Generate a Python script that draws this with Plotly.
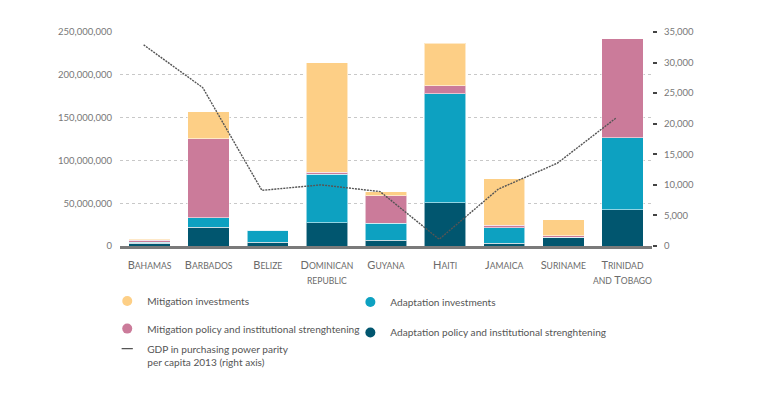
import plotly.graph_objects as go

categories = ["Bahamas", "Barbados", "Belize", "Dominican republic", "Guyana",
              "Haiti", "Jamaica", "Suriname", "Trinidad and Tobago"]
tick_labels = ["Bahamas", "Barbados", "Belize", "Dominican<br>republic", "Guyana",
               "Haiti", "Jamaica", "Suriname", "Trinidad<br>and Tobago"]

adaptation_policy = [3.0e6, 22.0e6, 4.5e6, 27.0e6, 7.0e6, 50.5e6, 3.0e6, 10.0e6, 42.5e6]
adaptation_invest = [1.5e6, 11.0e6, 14.0e6, 57.0e6, 19.5e6, 127.5e6, 18.5e6, 0.5e6, 84.0e6]
mitigation_policy = [2.5e6, 92.5e6, 0.0, 2.0e6, 32.5e6, 9.0e6, 3.0e6, 1.5e6, 115.5e6]
mitigation_invest = [1.0e6, 31.5e6, 0.0, 128.0e6, 4.5e6, 50.0e6, 54.0e6, 18.5e6, 0.0]
gdp_ppp = [32900, 25900, 9100, 10000, 8900, 1100, 9300, 13550, 21000]

left_ticks = [0, 50e6, 100e6, 150e6, 200e6, 250e6]
right_ticks = [0, 5000, 10000, 15000, 20000, 25000, 30000, 35000]

C_MI = "#FDCF86"
C_MP = "#CB7B9A"
C_AI = "#0DA1C1"
C_AP = "#01566F"
C_GDP = "#555555"
TXT = "#6b6b6b"
FONT = "Lato, sans-serif"


def small_caps(label, small=8.6):
    out = []
    for line in label.split("<br>"):
        words = []
        for w in line.split(" "):
            if w[0].isupper():
                words.append(w[0] + f"<span style='font-size:{small}px'>{w[1:].upper()}</span>")
            else:
                words.append(f"<span style='font-size:{small}px'>{w.upper()}</span>")
        out.append(" ".join(words))
    return "<br>".join(out)


fig = go.Figure()
series = [
    ("Adaptation policy and institutional strenghtening", adaptation_policy, C_AP),
    ("Adaptation investments", adaptation_invest, C_AI),
    ("Mitigation policy and institutional strenghtening", mitigation_policy, C_MP),
    ("Mitigation investments", mitigation_invest, C_MI),
]
for name, vals, col in series:
    fig.add_trace(go.Bar(
        x=categories, y=vals, name=name, marker_color=col,
        marker_line=dict(color="rgba(255,255,255,0.55)", width=1),
        showlegend=False, hoverinfo="skip"))

GDP_LINE = dict(color=C_GDP, width=1.4, dash="2px,1px")
fig.add_trace(go.Scatter(
    x=categories, y=gdp_ppp, xaxis="x2", yaxis="y2", mode="lines",
    line=GDP_LINE, showlegend=False))

legend_items = [
    ("Mitigation investments", C_MI, "legend"),
    ("Adaptation investments", C_AI, "legend2"),
    ("Mitigation policy and institutional strenghtening", C_MP, "legend3"),
    ("Adaptation policy and institutional strenghtening", C_AP, "legend4"),
]
for name, col, lg in legend_items:
    fig.add_trace(go.Scatter(
        x=[None], y=[None], mode="markers", name=name, legend=lg,
        marker=dict(color=col, size=10, symbol="circle")))
# short dash legend key for the GDP line
fig.add_trace(go.Scatter(
    x=[None], y=[None], mode="markers", legend="legend5",
    name="GDP in purchasing power parity<br>per capita 2013 (right axis)",
    marker=dict(symbol="line-ew-open", size=8, color=C_GDP,
                line=dict(color=C_GDP, width=1.2))))

leg_font = dict(family=FONT, size=10.1, color="#555555")
lx_left, lx_right = -0.024, 0.433


def leg(x, y, valign="middle"):
    return dict(x=x, y=y, xanchor="left", yanchor="middle", font=leg_font,
                bgcolor="rgba(0,0,0,0)", borderwidth=0, valign=valign,
                itemclick=False, itemsizing="trace")


fig.update_layout(
    width=761, height=398,
    margin=dict(l=120, r=109, t=32, b=152, autoexpand=False),
    paper_bgcolor="white", plot_bgcolor="white",
    barmode="stack", bargap=0.3,
    font=dict(family=FONT, color=TXT),
    xaxis=dict(
        type="category", range=[-0.5, 8.5],
        tickmode="array", tickvals=categories,
        ticktext=[small_caps(t) for t in tick_labels],
        tickfont=dict(family=FONT, size=11, color=TXT),
        showline=True, linecolor="#7a7a7a", linewidth=3,
        showgrid=False, ticks="", ticklabelstandoff=7,
    ),
    xaxis2=dict(
        type="category", overlaying="x", range=[-0.4, 8.6],
        visible=False, categoryarray=categories, categoryorder="array",
    ),
    yaxis=dict(
        range=[0, 250e6], tickvals=left_ticks, tickformat=",d",
        tickfont=dict(family=FONT, size=9.5, color="#777777"),
        showgrid=True, gridcolor="#c8c8c8", griddash="dot", gridwidth=1,
        zeroline=False, ticks="", ticklabelstandoff=7,
    ),
    yaxis2=dict(
        range=[0, 35000], tickvals=right_ticks, tickformat=",d",
        overlaying="y", side="right", anchor="x2",
        tickfont=dict(family=FONT, size=9.5, color="#777777"),
        showgrid=False, zeroline=False,
        ticks="outside", ticklen=4, tickwidth=1.5, tickcolor="#444444",
        ticklabelstandoff=5,
    ),
    legend=leg(lx_left, -0.257),
    legend2=leg(lx_right, -0.262),
    legend3=leg(lx_left, -0.386),
    legend4=leg(lx_right, -0.404),
    legend5=leg(lx_left, -0.512, valign="top"),
)

fig.write_html("out.html", config={"displayModeBar": False},
               post_script="document.body.style.margin='0';")
